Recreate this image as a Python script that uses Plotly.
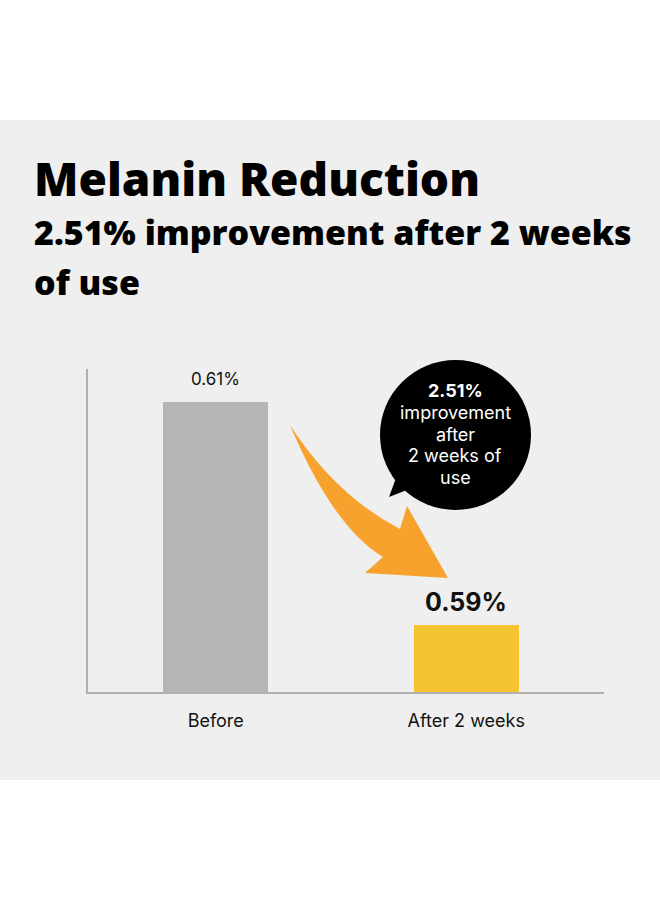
import plotly.graph_objects as go

# ---- data ----
categories = ["Before", "After 2 weeks"]
values = [0.61, 0.59]
title_text = "Melanin Reduction"
subtitle_lines = ["2.51% improvement after 2 weeks", "of use"]
bubble_lines = ["<b>2.51%</b>", "improvement", "after", "2 weeks of", "use"]

W, H = 660, 900


def px(x):
    return x / W


def py(y):
    return 1 - y / H


fig = go.Figure()
fig.add_trace(go.Bar(
    x=categories, y=values,
    marker=dict(color=["#b5b5b5", "#f5c433"], line=dict(width=0)),
    width=0.42, hoverinfo="skip", showlegend=False,
))

# value labels
label_styles = [dict(size=17, weight=400), dict(size=25, weight=700)]
annotations = []
for c, v, st in zip(categories, values, label_styles):
    annotations.append(dict(
        x=c, y=v, xref="x", yref="y", text=f"{v:.2f}%", showarrow=False,
        xanchor="center", yanchor="middle", yshift=23,
        font=dict(family="Inter", size=st["size"], weight=st["weight"], color="#111111"),
    ))

# titles
annotations.append(dict(
    x=px(32), y=py(178), xref="paper", yref="paper", text=title_text, showarrow=False,
    xanchor="left", yanchor="middle",
    font=dict(family="Open Sans", size=46, weight=800, color="#000000"),
))
for i, line in enumerate(subtitle_lines):
    annotations.append(dict(
        x=px(32), y=py(232 + 50 * i), xref="paper", yref="paper", text=line, showarrow=False,
        xanchor="left", yanchor="middle",
        font=dict(family="Open Sans", size=34, weight=800, color="#000000"),
    ))

# bubble text, one line each
for i, line in enumerate(bubble_lines):
    annotations.append(dict(
        x=px(455), y=py(391 + 21.5 * i), xref="paper", yref="paper", text=line,
        showarrow=False, xanchor="center", yanchor="middle", align="center",
        font=dict(family="Inter", size=18, color="#ffffff"),
    ))

shapes = [
    # grey panel
    dict(type="rect", xref="paper", yref="paper", x0=0, x1=1, y0=py(780), y1=py(120),
         fillcolor="#efefef", line=dict(width=0), layer="below"),
]


def path(points_cmds):
    out = []
    for cmd, *pts in points_cmds:
        s = cmd
        s += " ".join(f"{px(a):.5f},{py(b):.5f}" for a, b in pts)
        out.append(s)
    return " ".join(out) + " Z"


arrow = path([
    ("M", (290, 425)),
    ("Q", (335, 495), (400, 529)),
    ("L", (407, 506)),
    ("L", (448, 578)),
    ("L", (365, 573)),
    ("L", (383, 557)),
    ("Q", (333, 527), (290, 425)),
])
shapes.append(dict(type="path", xref="paper", yref="paper", path=arrow,
                   fillcolor="#f8a22e", line=dict(width=0), layer="above"))

# bubble
shapes.append(dict(type="circle", xref="paper", yref="paper",
                   x0=px(380), x1=px(531), y0=py(510), y1=py(360),
                   fillcolor="#000000", line=dict(width=0), layer="above"))
tail = path([("M", (396, 478)), ("L", (389, 497)), ("L", (412, 488))])
shapes.append(dict(type="path", xref="paper", yref="paper", path=tail,
                   fillcolor="#000000", line=dict(width=0), layer="above"))

fig.update_layout(
    width=W, height=H, margin=dict(l=0, r=0, t=0, b=0),
    paper_bgcolor="#ffffff", plot_bgcolor="rgba(0,0,0,0)",
    annotations=annotations, shapes=shapes,
    xaxis=dict(domain=[px(88), px(604)], range=[-0.51, 1.55], showgrid=False, zeroline=False,
               showline=True, linecolor="#b0b0b0", linewidth=1.5,
               ticks="outside", ticklen=12, tickcolor="rgba(0,0,0,0)",
               tickfont=dict(family="Inter", size=18, color="#111111"), fixedrange=True),
    yaxis=dict(domain=[py(692), py(369)], range=[0.5840, 0.6130], showgrid=False, zeroline=False,
               showline=True, linecolor="#b0b0b0", linewidth=1.5, showticklabels=False,
               ticks="", fixedrange=True),
    bargap=0,
)

fig.write_html("out.html")
